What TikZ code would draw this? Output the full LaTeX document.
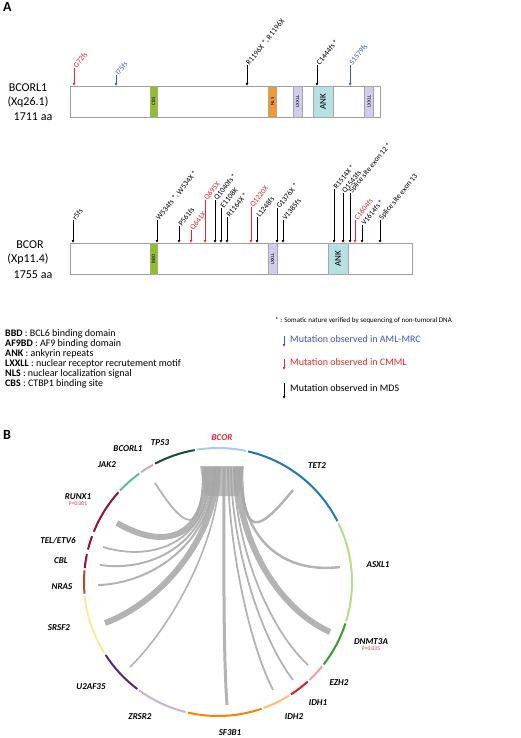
\documentclass[tikz,border=0pt]{standalone}
\usepackage{fontspec}
\setmainfont{Carlito}
\usetikzlibrary{arrows.meta,positioning,calc}
\definecolor{mutred}{HTML}{E8262A}
\definecolor{mutblue}{HTML}{3A56C8}
\definecolor{cbsgreen}{HTML}{8DC21F}
\definecolor{nlsorange}{HTML}{F39A2E}
\definecolor{lxlav}{HTML}{CFCDEB}
\definecolor{ankcyan}{HTML}{B6E0E2}
\definecolor{cbcor}{HTML}{A6CEE3}
\definecolor{ctet}{HTML}{1F78B4}
\definecolor{casxl}{HTML}{B2DF8A}
\definecolor{cdnmt}{HTML}{33A02C}
\definecolor{cezh}{HTML}{FB9A99}
\definecolor{cidha}{HTML}{E31A1C}
\definecolor{cidhb}{HTML}{FDBF6F}
\definecolor{csfb}{HTML}{FF7F00}
\definecolor{czrsr}{HTML}{CAB2D6}
\definecolor{cutaf}{HTML}{4B2A86}
\definecolor{csrsf}{HTML}{EEF09A}
\definecolor{cnras}{HTML}{B0453A}
\definecolor{cmaroon}{HTML}{8A1538}
\definecolor{cjak}{HTML}{5DBB9C}
\definecolor{cbcorl}{HTML}{D6A6BA}
\definecolor{ctp}{HTML}{174A3C}
\tikzset{
  protein/.style={draw=gray!75, line width=0.8pt, minimum height=31pt, anchor=north west, inner sep=0pt},
  protdomain/.style={draw=gray!70, line width=0.4pt, minimum height=31pt, inner sep=0pt},
  mut/.style={line width=0.9pt, -{Latex[length=3pt,width=3pt]}},
  mutlabel/.style={anchor=west, rotate=51, font=\fontsize{7.6}{7.6}\selectfont, inner sep=1pt},
  protname/.style={font=\fontsize{12}{12}\selectfont},
  legtext/.style={anchor=west, inner sep=0pt, font=\fontsize{10}{10}\selectfont},
  gene/.style={font=\fontsize{9}{9}\selectfont\bfseries\itshape, inner sep=0pt},
  pval/.style={font=\fontsize{5.5}{5.5}\selectfont, text=mutred, inner sep=0pt},
  genearc/.style={line width=2pt},
  ribbon/.style={draw=gray!70, opacity=0.85},
}
\begin{document}
\begin{tikzpicture}[x=1pt,y=-1pt]
  \useasboundingbox (0,0) rectangle (520,738);
  \node[font=\fontsize{14}{14}\selectfont\bfseries, anchor=north west, inner sep=0pt] (panA) at (3,2) {A};

  %BCORL1
  \node[protein, minimum width=310pt] (bcorl1) at (70,86) {};
  \node[protname] (bcorl1name) at (28,88) {BCORL1};
  \node[protname] (bcorl1loc) at (28,102) {(Xq26.1)};
  \node[protname] (bcorl1len) at (33,117) {1711 aa};
  \node[protdomain, fill=cbsgreen, minimum width=7pt] (cbs) at (153.5,101.5) {\rotatebox{90}{\tiny CBS}};
  \node[protdomain, fill=nlsorange, minimum width=8pt] (nls) at (272.5,101.5) {\rotatebox{90}{\tiny NLS}};
  \node[protdomain, fill=lxlav, minimum width=9pt] (lxxlla) at (297.5,101.5) {\rotatebox{90}{\tiny LXXLL}};
  \node[protdomain, fill=ankcyan, minimum width=20pt] (anka) at (323,101.5) {\rotatebox{90}{\small ANK}};
  \node[protdomain, fill=lxlav, minimum width=9pt] (lxxllb) at (369,101.5) {\rotatebox{90}{\tiny LXXLL}};
  \foreach \x/\t/\c/\l [count=\i] in {74/68/mutred/G72fs, 116/75/mutblue/I75fs,
      247/65/black/{R1196X *, R1196X}, 317/65/black/{C1444fs *}, 350/65/mutblue/S1579fs}
  {
    \coordinate (ml\i) at (\x,\t);
    \draw[mut, \c] (ml\i) -- (ml\i |- bcorl1.north);
    \node[mutlabel, text=\c] (mll\i) at (ml\i) {\l};
  }

  %BCOR
  \node[protein, minimum width=342pt] (bcor) at (70,243) {};
  \node[protname] (bcorname) at (30,245) {BCOR};
  \node[protname] (bcorloc) at (28,259) {(Xp11.4)};
  \node[protname] (bcorlen) at (33,275) {1755 aa};
  \node[protdomain, fill=cbsgreen, minimum width=7pt] (bbd) at (153.5,259) {\rotatebox{90}{\tiny BBD}};
  \node[protdomain, fill=lxlav, minimum width=9pt] (lxxllc) at (272.5,259) {\rotatebox{90}{\tiny LXXLL}};
  \node[protdomain, fill=ankcyan, minimum width=20pt] (ankb) at (338,259) {\rotatebox{90}{\small ANK}};
  \foreach \x/\t/\c/\l [count=\i] in {73/220/black/r5fs, 157/220/black/{W534fs *, W534X *},
      179/226/black/P561fs, 191/230/mutred/Q641X, 205/200/mutred/Q695X,
      215/200/black/{Q1040fs *}, 221/208/black/E1108K, 227/217/black/{R1164X *},
      251/207/mutred/Q1220X, 257/217/black/L1248fs, 277/208/black/{G1376X *},
      283/220/black/V1385fs, 334/189/black/{R1514X *}, 343/193/black/Q1543fs,
      350/193/black/{Splice site exon 12 *}, 355/220/mutred/C1604fs,
      362/225/black/{V1614fs *}, 380/220/black/{Splice site exon 13}}
  {
    \coordinate (mb\i) at (\x,\t);
    \draw[mut, \c] (mb\i) -- (mb\i |- bcor.north);
    \node[mutlabel, text=\c] (mbl\i) at (mb\i) {\l};
  }

  %legend
  \node[legtext] (lgbbd) at (5,334) {\textbf{BBD} : BCL6 binding domain};
  \node[legtext] (lgaf9) at (5,344) {\textbf{AF9BD} : AF9 binding domain};
  \node[legtext] (lgank) at (5,354) {\textbf{ANK} : ankyrin repeats};
  \node[legtext] (lglxx) at (5,364) {\textbf{LXXLL} : nuclear receptor recrutement motif};
  \node[legtext] (lgnls) at (5,374) {\textbf{NLS} : nuclear localization signal};
  \node[legtext] (lgcbs) at (5,384) {\textbf{CBS} : CTBP1 binding site};
  \node[legtext, font=\fontsize{7}{7}\selectfont] (lgsom) at (275,321) {* : Somatic nature verified by sequencing of non-tumoral DNA};
  \coordinate (kb) at (284,336);
  \coordinate (kr) at (284,359);
  \coordinate (kk) at (284,383);
  \draw[mut, mutblue] (kb) -- ++(0,11);
  \draw[mut, mutred] (kr) -- ++(0,11);
  \draw[mut, black] (kk) -- ++(0,16);
  \node[legtext, text=mutblue, right=6pt of kb, yshift=-3pt] (lgaml) {Mutation observed in AML-MRC};
  \node[legtext, text=mutred, right=6pt of kr, yshift=-3pt] (lgcmml) {Mutation observed in CMML};
  \node[legtext, right=6pt of kk, yshift=-5pt] (lgmds) {Mutation observed in MDS};

  %panel B
  \node[font=\fontsize{14}{14}\selectfont\bfseries, anchor=north west, inner sep=0pt] (panB) at (3,430) {B};
  \coordinate (ctr) at (218,582);
  \begin{scope}[shift={(218,582)}, yscale=-1]
    \foreach \a/\b/\c in {78/99/cbcor, 27/77/ctet, -17/26/casxl, -38/-18/cdnmt, -47/-39/cezh,
        -57/-48/cidha, -70/-58/cidhb, -103/-71/csfb, -126/-104/czrsr, -147/-127/cutaf,
        -174/-148/csrsf, 175/185/cnras, 168/174/cmaroon, 160/166/cmaroon, 138/158/cmaroon,
        126/137/cjak, 119/125/cbcorl, 100/118/ctp}
      \draw[genearc, color=\c] (\a:134) arc[start angle=\a, end angle=\b, radius=134];
  \end{scope}

  \fill[gray!65, opacity=0.8] (200,466) -- (244,466) -- (239,496) -- (205,496) -- cycle;
  \foreach \sx/\ex/\ey/\w in {203/155/483/1.8, 207/117/523/6, 211/103/547/1.8, 213/100/565/2,
      215/98/585/2, 217/105/623/6, 220/130/667/1.6, 224/227/705/3, 228/273/690/1.8,
      231/293/680/1.8, 234/308/665/1.8, 237/330/632/6, 240/340/567/2.5, 242/293/490/2.5}
  {
    \coordinate (rs) at (\sx,467);
    \coordinate (re) at (\ex,\ey);
    \draw[ribbon, line width=\w pt] (rs) .. controls ($(rs)+(0,75)$) and ($(re)!0.45!(ctr)$) .. (re);
  }

  \node[gene, text=mutred] (gbcor) at (222,438) {BCOR};
  \node[gene] (gtp53) at (160,443) {TP53};
  \node[gene] (gbcorl1) at (128,449) {BCORL1};
  \node[gene] (gjak2) at (107,465) {JAK2};
  \node[gene] (grunx1) at (78,497) {RUNX1};
  \node[pval, below=2pt of grunx1] (prunx1) {P=0.001};
  \node[gene] (gtel) at (58,541) {TEL/ETV6};
  \node[gene] (gcbl) at (61,561) {CBL};
  \node[gene] (gnras) at (62,587) {NRAS};
  \node[gene] (gsrsf2) at (59,628) {SRSF2};
  \node[gene] (gu2af35) at (91,687) {U2AF35};
  \node[gene] (gzrsr2) at (140,717) {ZRSR2};
  \node[gene] (gsf3b1) at (230,733) {SF3B1};
  \node[gene] (gidh2) at (294,717) {IDH2};
  \node[gene] (gidh1) at (318,703) {IDH1};
  \node[gene] (gezh2) at (339,683) {EZH2};
  \node[gene] (gdnmt3a) at (371,642) {DNMT3A};
  \node[pval, below=2pt of gdnmt3a] (pdnmt3a) {P=0.035};
  \node[gene] (gasxl1) at (378,565) {ASXL1};
  \node[gene] (gtet2) at (317,466) {TET2};
\end{tikzpicture}
\end{document}
